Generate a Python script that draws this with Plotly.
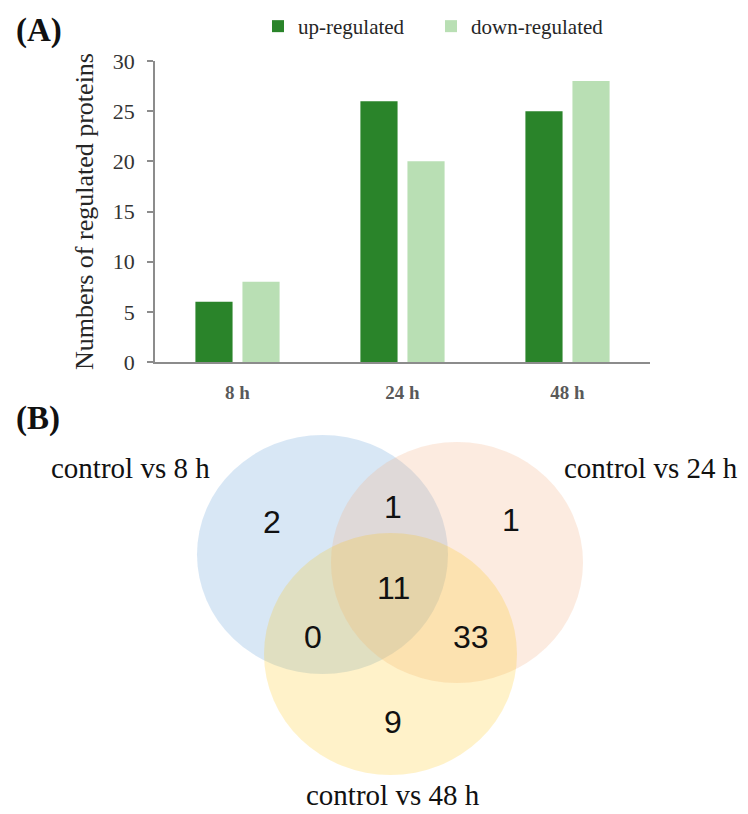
import plotly.graph_objects as go

# ---- data ----
time_points = ["8 h", "24 h", "48 h"]
up_regulated = [6, 26, 25]
down_regulated = [8, 20, 28]
y_ticks = [0, 5, 10, 15, 20, 25, 30]

venn_set_labels = ["control vs 8 h", "control vs 24 h", "control vs 48 h"]
venn_region_names = ["8 only", "8&24", "24 only", "all", "8&48", "24&48", "48 only"]
venn_region_counts = [2, 1, 1, 11, 0, 33, 9]

# page has an 8px body margin; figure covers window pixels 8..748 x 8..814
OFF = 8
WIN_W, WIN_H = 748, 814
W, H = WIN_W - OFF, WIN_H - OFF
SERIF = "Liberation Serif, Times New Roman, serif"
SANS = "Liberation Sans, Arial, sans-serif"


def px_x(p):
    return (p - OFF) / W


def px_y(p):
    return 1 - (p - OFF) / H


fig = go.Figure()
fig.add_trace(go.Bar(x=time_points, y=up_regulated, name="up-regulated",
                     marker=dict(color="#2a842a", line=dict(width=0))))
fig.add_trace(go.Bar(x=time_points, y=down_regulated, name="down-regulated",
                     marker=dict(color="#b9dfb4", line=dict(width=0))))

axis_col = "#8c8c8c"
fig.update_layout(
    width=W, height=H,
    margin=dict(l=0, r=0, t=0, b=0, autoexpand=False),
    paper_bgcolor="white", plot_bgcolor="rgba(0,0,0,0)",
    barmode="group", bargap=0.43, bargroupgap=0.21,
    showlegend=True,
    legend=dict(orientation="h", x=px_x(258), xanchor="left", y=px_y(6), yanchor="top",
                font=dict(family=SERIF, size=21, color="#262626"),
                entrywidth=128, entrywidthmode="pixels",
                bgcolor="rgba(0,0,0,0)"),
    xaxis=dict(domain=[px_x(155), px_x(650)], anchor="y",
               showline=True, linecolor=axis_col, linewidth=1.5,
               ticks="", showgrid=False, zeroline=False,
               tickfont=dict(family=SERIF, size=19, color="#595959", weight="bold"),
               ticklabelstandoff=12),
    yaxis=dict(domain=[px_y(362), px_y(61)], anchor="x", range=[0, 30],
               tickvals=y_ticks, ticks="outside", ticklen=6, tickcolor=axis_col, tickwidth=1.5,
               showline=True, linecolor=axis_col, linewidth=1.5,
               showgrid=False, zeroline=False,
               tickfont=dict(family=SERIF, size=22, color="#333333"),
               ticklabelstandoff=8,
               title=dict(text="Numbers of regulated proteins",
                          font=dict(family=SERIF, size=26, color="#262626"), standoff=12)),
    # Venn canvas axes in window-pixel units
    xaxis2=dict(domain=[0, 1], range=[OFF, WIN_W], anchor="y2", visible=False, fixedrange=True),
    yaxis2=dict(domain=[0, 1], range=[WIN_H, OFF], anchor="x2", visible=False, fixedrange=True),
)

# Venn circles (x0, x1, y0, y1) and fills
circles = [
    ((197, 448, 435, 674), "rgba(91,155,213,0.24)"),
    ((331, 583, 442, 683), "rgba(244,177,131,0.25)"),
    ((264, 517, 533, 775), "rgba(255,192,0,0.21)"),
]
for (x0, x1, y0, y1), col in circles:
    fig.add_shape(type="circle", xref="x2", yref="y2", x0=x0, x1=x1, y0=y0, y1=y1,
                  fillcolor=col, line=dict(width=0), layer="below")

# invisible trace to activate x2/y2
fig.add_trace(go.Scatter(x=[OFF], y=[OFF], xaxis="x2", yaxis="y2", mode="markers",
                         marker=dict(opacity=0), showlegend=False, hoverinfo="skip"))

region_pos = [(272, 522), (393, 507), (511, 520), (393, 588), (313, 637), (471, 637), (393, 722)]
for (x, y), n in zip(region_pos, venn_region_counts):
    fig.add_annotation(x=x, y=y, xref="x2", yref="y2", text=str(n), showarrow=False,
                       font=dict(family=SANS, size=32, color="#111111"))

label_pos = [(130, 468), (651, 468), (393, 795)]
for (x, y), t in zip(label_pos, venn_set_labels):
    fig.add_annotation(x=x, y=y, xref="x2", yref="y2", text=t, showarrow=False,
                       font=dict(family=SERIF, size=29, color="#111111"))

# panel letters
fig.add_annotation(x=14, y=30, xref="x2", yref="y2", text="<b>(A)</b>", showarrow=False,
                   xanchor="left", font=dict(family=SERIF, size=33, color="#111111"))
fig.add_annotation(x=14, y=418, xref="x2", yref="y2", text="<b>(B)</b>", showarrow=False,
                   xanchor="left", font=dict(family=SERIF, size=33, color="#111111"))

fig.write_html("out.html")
